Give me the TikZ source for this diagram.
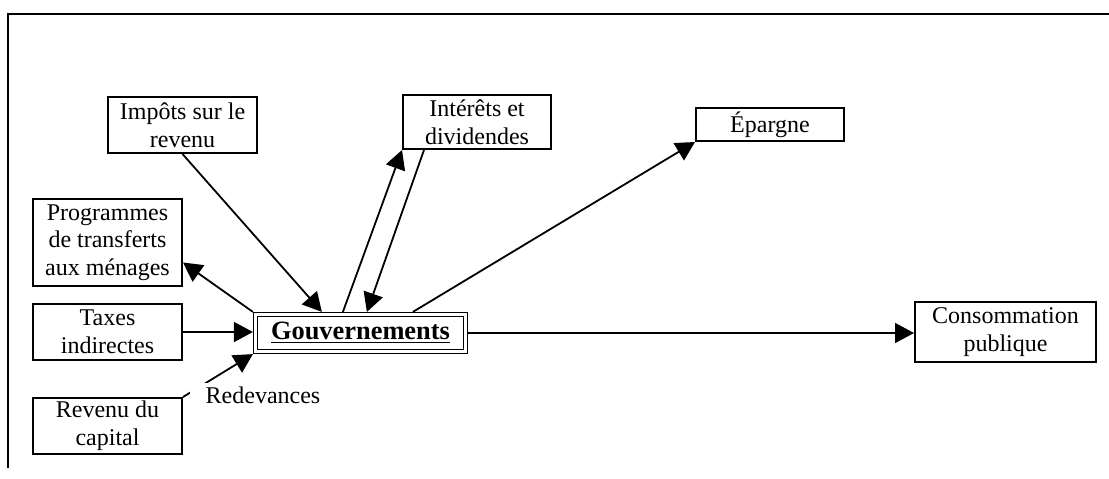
\documentclass[tikz,border=0pt]{standalone}
\usepackage{fontspec}
\setmainfont{Liberation Serif}
\usetikzlibrary{positioning,arrows.meta}

\begin{document}
\begin{tikzpicture}[x=0.5pt,y=-0.5pt,
  font=\fontsize{12}{13.8}\selectfont,
  box/.style={draw,line width=1pt,align=center,inner sep=0pt,
    minimum width=74.5pt,minimum height=28pt},
  govbox/.style={draw,double,line width=0.7pt,double distance=1.3pt,
    outer sep=1.35pt,inner sep=0pt,minimum width=104.9pt,minimum height=18.4pt,
    font=\fontsize{13.2}{16}\selectfont\bfseries},
  flow/.style={line width=0.9pt,-{Triangle[length=9.5pt,width=10pt]}}]
\useasboundingbox (0,0) rectangle (1109,478);

% Draw the frame
\draw[line width=1pt] (1109,14) -- (8,14) -- (8,468);

% Define the boxes
\node[box] (imp) at (182.5,125) {Impôts sur le\\revenu};
\node[box,minimum width=74pt,minimum height=27pt] (int) at (477,122) {Intérêts et\\dividendes};
\node[box,minimum width=74pt,minimum height=16.5pt] (epa) at (770,124.5) {Épargne};
\node[box,minimum height=43.5pt] (prog) at (107.5,242.5) {Programmes\\de transferts\\aux ménages};
\node[box] (tax) at (107.5,332) {Taxes\\indirectes};
\node[box] (rev) at (107.5,426) {Revenu du\\capital};
\node[box,minimum width=90.5pt,minimum height=30pt] (cons) at (1005.5,332) {Consommation\\publique};
\node[govbox] (gouv) at (360.5,333) {\underline{Gouvernements}};

% Draw the flows
\draw[flow] (imp.south) -- ([xshift=34.5pt]gouv.north west);
\draw[flow] ([xshift=45pt]gouv.north west) -- (int.south west);
\draw[flow] ([xshift=11pt]int.south west) -- ([xshift=57pt]gouv.north west);
\draw[flow] ([xshift=80pt]gouv.north west) -- (epa.south west);
\draw[flow] (gouv.north west) -- ([yshift=-10pt]prog.east);
\draw[flow] (tax.east) -- (tax.east -| gouv.west);
\draw[flow] (gouv.east) -- (gouv.east -| cons.west);
\draw[flow] (rev.north east) -- (gouv.south west);
\node[fill=white,inner xsep=8pt,inner ysep=2pt] (red) at (263,395) {Redevances};
\end{tikzpicture}
\end{document}
